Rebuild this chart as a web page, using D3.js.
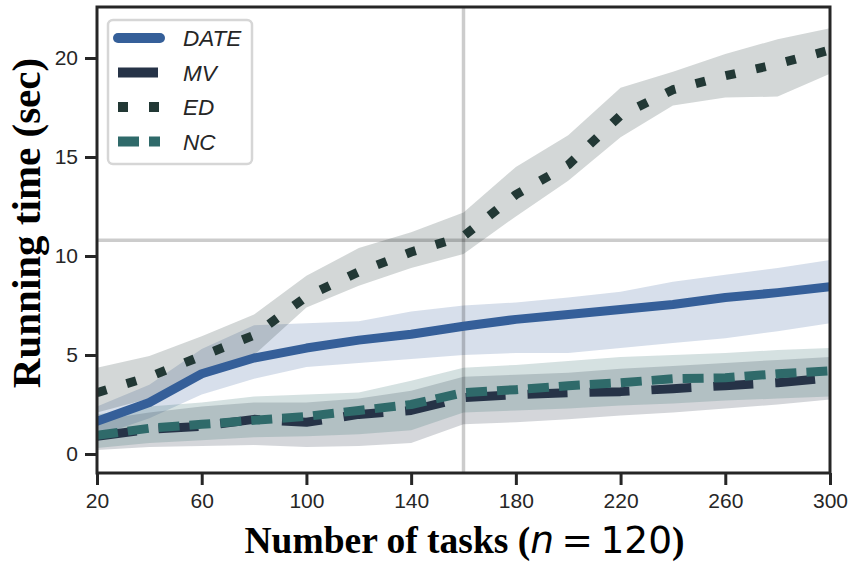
<!DOCTYPE html>
<html>
<head>
<meta charset="utf-8">
<script src="https://cdn.jsdelivr.net/npm/d3@7"></script>
<style>
  body { margin: 0; background: #fff; }
  svg text { font-family: "Liberation Sans", Arial, sans-serif; }
</style>
</head>
<body>
<script>
// number of tasks
const tasks = [20, 40, 60, 80, 100, 120, 140, 160, 180, 200, 220, 240, 260, 280, 300];

// mean running time per method
const dateMean = [1.65, 2.6, 4.05, 4.85, 5.35, 5.75, 6.05, 6.45, 6.8, 7.05, 7.3, 7.55, 7.9, 8.15, 8.45];
const mvMean   = [0.9, 1.25, 1.4, 1.75, 1.6, 2.0, 2.2, 2.85, 3.0, 3.1, 3.15, 3.3, 3.45, 3.6, 3.85];
const edMean   = [3.1, 3.9, 4.95, 6.0, 7.95, 9.2, 10.2, 11.0, 13.1, 14.6, 17.1, 18.4, 19.1, 19.7, 20.4];
const ncMean   = [0.95, 1.3, 1.5, 1.7, 1.9, 2.2, 2.5, 3.1, 3.25, 3.45, 3.6, 3.8, 3.85, 4.05, 4.2];

// confidence bands (lower / upper)
const dateLow  = [0.9, 1.8, 3.0, 3.8, 4.4, 4.6, 4.8, 5.0, 5.1, 5.1, 5.35, 5.6, 5.85, 6.2, 6.6];
const dateHigh = [2.4, 3.5, 5.3, 6.5, 6.6, 6.7, 7.2, 7.5, 7.65, 7.9, 8.2, 8.7, 9.05, 9.4, 9.8];
const mvLow    = [0.2, 0.35, 0.4, 0.45, 0.35, 0.4, 0.55, 1.5, 1.6, 1.75, 1.95, 2.1, 2.3, 2.5, 2.75];
const mvHigh   = [1.7, 2.1, 2.4, 2.6, 2.6, 2.8, 3.2, 3.9, 4.0, 4.1, 4.3, 4.45, 4.6, 4.75, 4.9];
const edLow    = [2.1, 2.8, 3.8, 5.0, 7.4, 8.5, 9.4, 10.1, 12.0, 13.8, 16.0, 17.6, 18.0, 18.05, 19.2];
const edHigh   = [4.35, 4.95, 5.95, 7.05, 9.0, 10.4, 11.2, 12.2, 14.5, 16.1, 18.5, 19.3, 20.2, 20.95, 21.5];
const ncLow    = [0.3, 0.55, 0.7, 0.85, 0.9, 1.0, 1.2, 2.1, 2.2, 2.3, 2.45, 2.55, 2.7, 2.8, 2.9];
const ncHigh   = [2.0, 2.4, 2.6, 2.9, 3.0, 3.1, 3.7, 4.35, 4.5, 4.7, 4.9, 5.0, 5.1, 5.25, 5.35];

const xTicks = [20, 60, 100, 140, 180, 220, 260, 300];
const yTicks = [0, 5, 10, 15, 20];

// reference cross-hair
const refX = 160;
const refY = 10.8;

const series = [
  { name: "DATE", color: "#355f99", mean: dateMean, low: dateLow, high: dateHigh, dash: null, cap: "round" },
  { name: "MV",   color: "#263347", mean: mvMean,   low: mvLow,   high: mvHigh,   dash: "40,22", cap: "butt" },
  { name: "ED",   color: "#223835", mean: edMean,   low: edLow,   high: edHigh,   dash: "10,21", cap: "butt" },
  { name: "NC",   color: "#2f6a6a", mean: ncMean,   low: ncLow,   high: ncHigh,   dash: "21,10", cap: "butt" }
];

const width = 853, height = 565;
const margin = { top: 7, right: 23, bottom: 92, left: 97 };
const lw = 9;

const svg = d3.select("body").append("svg")
  .attr("width", width)
  .attr("height", height);

const x = d3.scaleLinear()
  .domain([20, 300])
  .range([margin.left, width - margin.right]);

// y: 0 at 454, 20 at 58
const y = d3.scaleLinear()
  .domain([0, 20])
  .range([454, 58]);

const plotTop = margin.top, plotBottom = height - margin.bottom;

svg.append("clipPath").attr("id", "clip")
  .append("rect")
  .attr("x", x(20)).attr("y", plotTop)
  .attr("width", x(300) - x(20)).attr("height", plotBottom - plotTop);

const plot = svg.append("g").attr("clip-path", "url(#clip)");

// bands
const area = d3.area()
  .x((d, i) => x(tasks[i]))
  .y0(d => y(d[0]))
  .y1(d => y(d[1]));

series.forEach(s => {
  plot.append("path")
    .datum(s.low.map((v, i) => [v, s.high[i]]))
    .attr("fill", s.color)
    .attr("fill-opacity", 0.2)
    .attr("d", area);
});

// reference lines
plot.append("line")
  .attr("x1", x(refX)).attr("x2", x(refX))
  .attr("y1", plotTop).attr("y2", plotBottom)
  .attr("stroke", "#000").attr("stroke-opacity", 0.2).attr("stroke-width", 3.5);
plot.append("line")
  .attr("x1", x(20)).attr("x2", x(300))
  .attr("y1", y(refY)).attr("y2", y(refY))
  .attr("stroke", "#000").attr("stroke-opacity", 0.2).attr("stroke-width", 3.5);

// mean lines
const line = d3.line()
  .x((d, i) => x(tasks[i]))
  .y(d => y(d));

series.forEach(s => {
  plot.append("path")
    .datum(s.mean)
    .attr("fill", "none")
    .attr("stroke", s.color)
    .attr("stroke-width", lw)
    .attr("stroke-linejoin", "round")
    .attr("stroke-linecap", s.cap)
    .attr("stroke-dasharray", s.dash)
    .attr("d", line);
});

// axes
const xAxis = svg.append("g")
  .attr("transform", `translate(0,${plotBottom})`)
  .call(d3.axisBottom(x).tickValues(xTicks).tickSize(12).tickPadding(8).tickSizeOuter(0));

const yAxis = svg.append("g")
  .attr("transform", `translate(${margin.left},0)`)
  .call(d3.axisLeft(y).tickValues(yTicks).tickSize(12).tickPadding(7).tickSizeOuter(0));

[xAxis, yAxis].forEach(g => {
  g.select(".domain").remove();
  g.selectAll(".tick line").attr("stroke", "#262626").attr("stroke-width", 3);
  g.selectAll(".tick text")
    .attr("fill", "#262626")
    .style("font-size", "21px")
    .style("font-family", "'Liberation Sans', Arial, sans-serif");
});

// frame
svg.append("rect")
  .attr("x", x(20)).attr("y", plotTop)
  .attr("width", x(300) - x(20)).attr("height", plotBottom - plotTop)
  .attr("fill", "none")
  .attr("stroke", "#262626")
  .attr("stroke-width", 3);

// axis labels
const xl = svg.append("text")
  .attr("x", (x(20) + x(300)) / 2 + 1)
  .attr("y", 553)
  .attr("text-anchor", "middle")
  .style("font-family", "'Liberation Serif', 'Times New Roman', serif")
  .style("font-weight", "bold")
  .style("font-size", "37.5px")
  .attr("fill", "#000");
xl.append("tspan").text("Number of tasks (");
xl.append("tspan")
  .style("font-family", "'DejaVu Sans', sans-serif")
  .style("font-weight", "normal")
  .style("font-style", "italic")
  .text("n");
xl.append("tspan")
  .style("font-family", "'DejaVu Sans', sans-serif")
  .style("font-weight", "normal")
  .text("\u2009=\u2009120");
xl.append("tspan").text(")");

svg.append("text")
  .attr("transform", `translate(40,223) rotate(-90)`)
  .attr("text-anchor", "middle")
  .style("font-family", "'Liberation Serif', 'Times New Roman', serif")
  .style("font-weight", "bold")
  .style("font-size", "41px")
  .attr("fill", "#000")
  .text("Running time (sec)");

// legend
const legend = svg.append("g");
legend.append("rect")
  .attr("x", 108).attr("y", 20)
  .attr("width", 144).attr("height", 144)
  .attr("rx", 5)
  .attr("fill", "#fff").attr("fill-opacity", 0.8)
  .attr("stroke", "#d6d6d6").attr("stroke-width", 2.5);

const rowY = d3.scaleLinear().domain([0, 3]).range([38, 141.5]);
series.forEach((s, i) => {
  const yy = rowY(i);
  legend.append("line")
    .attr("x1", 118).attr("x2", 160)
    .attr("y1", yy).attr("y2", yy)
    .attr("stroke", s.color)
    .attr("stroke-width", 10)
    .attr("stroke-linecap", s.cap)
    .attr("stroke-dasharray", s.dash);
  legend.append("text")
    .attr("x", 183).attr("y", yy + 8)
    .style("font-size", "22.5px")
    .style("font-style", "italic")
    .attr("fill", "#262626")
    .text(s.name);
});
</script>
</body>
</html>
